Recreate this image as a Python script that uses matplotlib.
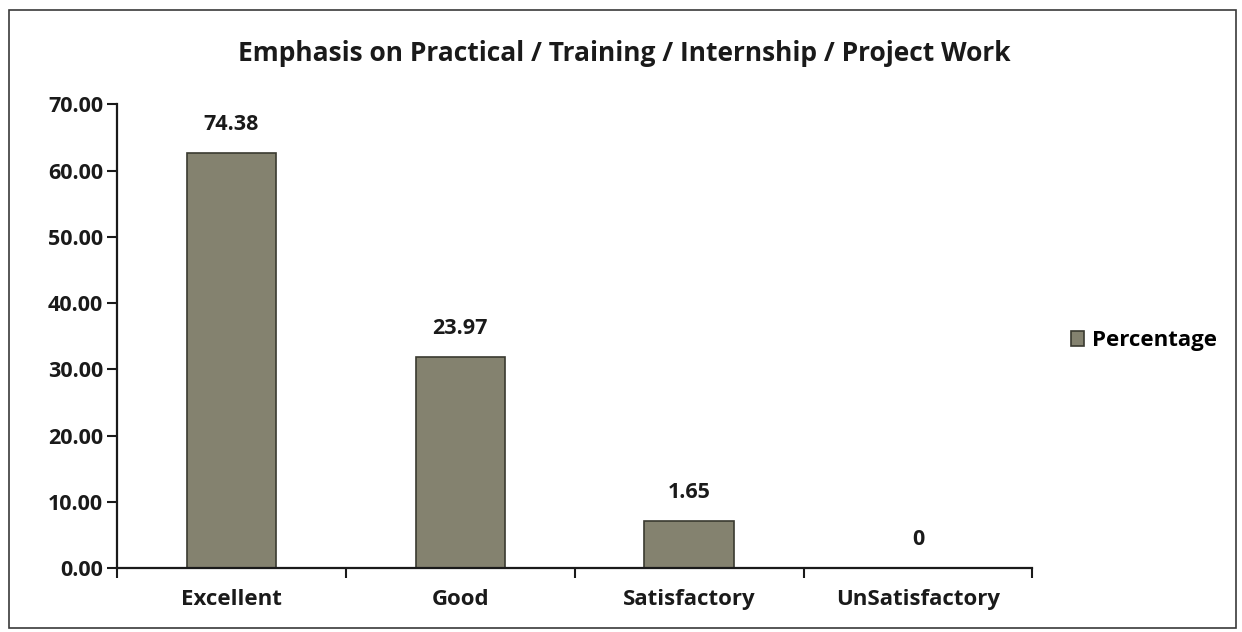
import numpy as np
import matplotlib.pyplot as plt
from matplotlib.patches import Rectangle

plt.rcParams['font.family'] = ['Open Sans', 'DejaVu Sans']

categories = ["Excellent", "Good", "Satisfactory", "UnSatisfactory"]
bar_heights = [62.6, 31.8, 7.1, 0.0]
bar_labels = ["74.38", "23.97", "1.65", "0"]
y_ticks = [0, 10, 20, 30, 40, 50, 60, 70]

fig = plt.figure(figsize=(12.42, 6.32), dpi=100)
ax = fig.add_axes([0.0942, 0.101, 0.737, 0.734])

x = np.arange(len(categories))
bars = ax.bar(x, bar_heights, width=0.39, color="#84826f", edgecolor="#3a3a30",
              linewidth=1.2, label="Percentage")

for xi, h, lab in zip(x, bar_heights, bar_labels):
    ax.text(xi, h + 2.8, lab, ha="center", va="bottom", fontsize=15.5, fontweight="bold", color="#1a1a1a")

ax.set_xlim(-0.5, len(categories) - 0.5)
ax.set_ylim(0, 70)
ax.set_yticks(y_ticks)
ax.set_yticklabels(["%.2f" % v for v in y_ticks], fontsize=15.5, fontweight="bold", color="#1a1a1a")
ax.set_xticks(x)
ax.set_xticklabels(categories, fontsize=16, fontweight="bold", color="#1a1a1a")
ax.tick_params(axis="x", length=0, pad=15)
ax.set_xticks(np.arange(-0.5, len(categories)), minor=True)
ax.tick_params(axis="x", which="minor", length=7, width=1.5, direction="out", color="#1a1a1a")
ax.tick_params(axis="y", length=7, width=1.5, direction="out", color="#1a1a1a", pad=3)

for s in ["top", "right"]:
    ax.spines[s].set_visible(False)
for s in ["left", "bottom"]:
    ax.spines[s].set_linewidth(1.6)
    ax.spines[s].set_color("#1a1a1a")

fig.text(0.503, 0.915, "Emphasis on Practical / Training / Internship / Project Work",
         ha="center", va="center", fontsize=19, fontweight="bold", color="#1a1a1a")

ax.legend(loc="center left", bbox_to_anchor=(1.02, 0.49), frameon=False,
          prop={"size": 16, "weight": "bold"}, handlelength=0.6, handleheight=0.6,
          handletextpad=0.35)

fig.patches.append(Rectangle((0.007, 0.006), 0.988, 0.978, transform=fig.transFigure,
                             fill=False, edgecolor="#3a3a3a", linewidth=1.2))

fig.savefig("out.png", dpi=100)
